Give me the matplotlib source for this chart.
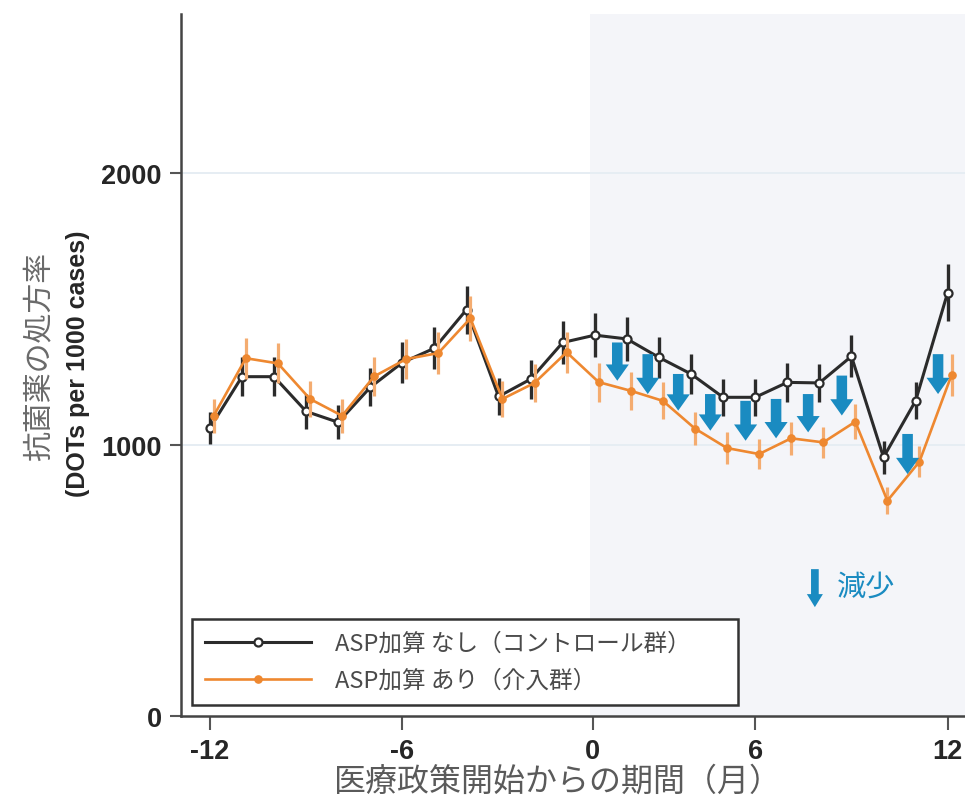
#!/usr/bin/env python3
import matplotlib

matplotlib.use("Agg")
import matplotlib.pyplot as plt

JP = ["Noto Sans CJK JP", "DejaVu Sans"]
LATIN = ["Liberation Sans", "DejaVu Sans"]

# months before/after the policy start (there is no month 0 point)
months = [-12, -11, -10, -9, -8, -7, -6, -5, -4, -3, -2, -1,
          1, 2, 3, 4, 5, 6, 7, 8, 9, 10, 11, 12]
control = [1061, 1250, 1250, 1122, 1082, 1211, 1302, 1355, 1497, 1177, 1241, 1376,
           1403, 1389, 1321, 1260, 1174, 1174, 1229, 1227, 1325, 953, 1161, 1560]
control_err = [60, 72, 72, 65, 62, 70, 75, 78, 88, 68, 72, 80,
               82, 80, 76, 73, 68, 68, 71, 71, 77, 60, 68, 105]
intervention = [1106, 1318, 1299, 1168, 1106, 1251, 1315, 1337, 1465, 1168, 1227, 1340,
                1230, 1198, 1161, 1059, 987, 965, 1023, 1008, 1084, 793, 937, 1256]
intervention_err = [62, 75, 74, 66, 62, 71, 75, 76, 84, 66, 70, 76,
                    72, 70, 68, 62, 58, 56, 60, 58, 64, 50, 56, 76]

# blue "decrease" arrows
arrow_month = [1.7, 2.65, 3.6, 4.6, 5.7, 6.65, 7.65, 8.7, 10.75, 11.7]
arrow_top = [1376, 1333, 1260, 1186, 1161, 1168, 1186, 1254, 1039, 1333]
arrow_bottom = [1235, 1186, 1125, 1051, 1014, 1023, 1045, 1107, 891, 1186]

tick_months = [-12, -6, 0, 6, 12]
tick_labels = ["-12", "-6", "0", "6", "12"]

BLACK = "#2b2b2b"
ORANGE = "#ee8830"
ORANGE_ERR = "#f4ac70"
BLUE = "#1a8bc1"


def to_pos(m):
    # month 1 sits right after month -1 on the drawn axis
    if m > 0:
        return m - 1
    if m == 0:
        return -0.07
    return m


def main() -> None:
    fig = plt.figure(figsize=(9.65, 8.03), dpi=100)
    ax = fig.add_axes([0.1876, 0.1071, 0.8124, 0.8742])

    x = [to_pos(m) for m in months]
    x_int = [p + 0.12 for p in x]
    xmin, xmax = -12.9, 11.54

    ax.axvspan(to_pos(0) - 0.08, xmax, color="#f4f5f9", zorder=0, lw=0)
    for g in (1000, 2000):
        ax.axhline(g, color="#e6edf3", lw=1.4, zorder=0.5)

    ax.errorbar(x, control, yerr=control_err, fmt="none", ecolor=BLACK,
                elinewidth=2.4, capsize=0, zorder=2)
    ax.plot(x, control, "-o", color=BLACK, lw=2.2, ms=5.8, mfc="white",
            mec=BLACK, mew=1.6, zorder=3, label="ASP加算 なし（コントロール群）")

    ax.errorbar(x_int, intervention, yerr=intervention_err, fmt="none",
                ecolor=ORANGE_ERR, elinewidth=2.3, capsize=0, zorder=4)
    ax.plot(x_int, intervention, "-o", color=ORANGE, lw=1.9, ms=5.2, mfc=ORANGE,
            mec=ORANGE, zorder=5, label="ASP加算 あり（介入群）")

    for am, top, bot in zip(arrow_month, arrow_top, arrow_bottom):
        ax.arrow(to_pos(am), top, 0, bot - top, width=0.33, head_width=0.72,
                 head_length=60, length_includes_head=True, color=BLUE,
                 lw=0, zorder=6)

    # legend for the arrows
    ax.arrow(6.86, 541, 0, -140, width=0.24, head_width=0.5, head_length=48,
             length_includes_head=True, color=BLUE, lw=0, zorder=6)
    ax.text(7.55, 478, "減少", color=BLUE, fontsize=21, family=JP,
            va="center", ha="left")

    ax.set_xlim(xmin, xmax)
    ax.set_ylim(0, 2586)
    ax.set_xticks([to_pos(m) for m in tick_months])
    ax.set_xticklabels(tick_labels, family=LATIN, fontsize=19.5, color="#262626",
                       fontweight="bold")
    ax.set_yticks([0, 1000, 2000])
    ax.set_yticklabels(["0", "1000", "2000"], family=LATIN, fontsize=19.5,
                       color="#262626", fontweight="bold")
    ax.tick_params(axis="both", direction="out", length=8, width=1.5,
                   color="#555555", pad=6)
    ax.tick_params(axis="x", length=10)

    for side in ("top", "right"):
        ax.spines[side].set_visible(False)
    for side in ("left", "bottom"):
        ax.spines[side].set_color("#444444")
        ax.spines[side].set_linewidth(1.8)

    leg = ax.legend(loc="lower left", bbox_to_anchor=(0.014, 0.0157, 0.696, 0.12),
                    mode="expand", borderaxespad=0, prop={"family": JP, "size": 17},
                    handlelength=4.5, handletextpad=1.0, labelspacing=0.6,
                    borderpad=0.55, fancybox=False, framealpha=1, edgecolor="#333333")
    leg.get_frame().set_linewidth(1.8)
    for t in leg.get_texts():
        t.set_color("#4a4a4a")

    fig.text(0.0415, 0.5567, "抗菌薬の処方率", rotation=90, family=JP, fontsize=21.5,
             color="#6a6a6a", ha="center", va="center")
    fig.text(0.0808, 0.5467, "(DOTs per 1000 cases)", rotation=90, family=LATIN,
             fontsize=18, color="#262626", ha="center", va="center", fontweight="bold")
    fig.text(0.578, 0.026, "医療政策開始からの期間（月）", family=JP, fontsize=23,
             color="#5a5a5a", ha="center", va="center")

    fig.savefig("out.png", dpi=100)


if __name__ == "__main__":
    main()
